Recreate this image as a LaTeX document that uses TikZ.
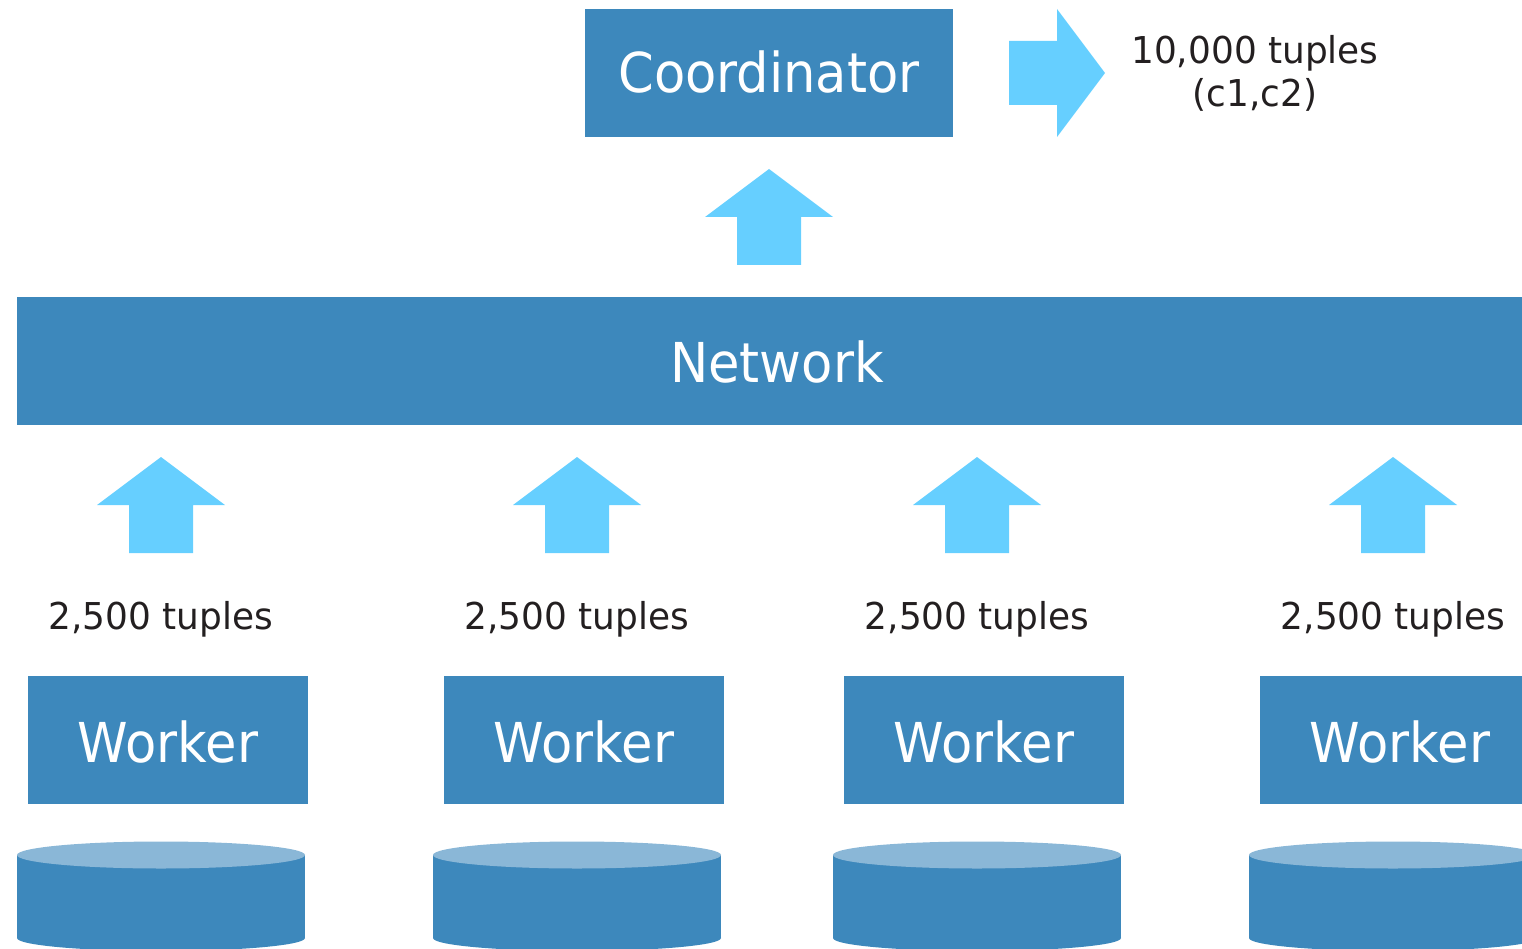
\documentclass[tikz,border=0pt]{standalone}
\usepackage{fontspec}
\newfontfamily\bigf[FakeStretch=0.93]{DejaVu Sans}
\newfontfamily\smallf[FakeStretch=0.97]{DejaVu Sans}
\definecolor{boxc}{HTML}{3D88BC}
\definecolor{topc}{HTML}{8AB7D7}
\definecolor{arrc}{HTML}{66CFFF}
\definecolor{txtc}{HTML}{231F20}
\tikzset{
  bluebox/.style={fill=boxc, draw=none},
  bigtext/.style={font=\bigf\fontsize{55}{60}\selectfont, text=white, anchor=base, inner sep=0pt},
  smalltext/.style={font=\smallf\fontsize{37}{40}\selectfont, text=txtc, anchor=base, inner sep=0pt},
  uparr/.pic={\fill[arrc] (0,0) -- (64,48) -- (32,48) -- (32,96) -- (-32,96) -- (-32,48) -- (-64,48) -- cycle;},
  cyl/.pic={
    \fill[boxc] (0,0) rectangle (288,83);
    \fill[boxc] (144,83) ellipse [x radius=144, y radius=13];
    \fill[topc] (144,0) ellipse [x radius=144, y radius=13.5];
  }
}
\begin{document}
\begin{tikzpicture}[x=1pt, y=-1pt]
\useasboundingbox (0,0) rectangle (1522,949);
\clip (0,0) rectangle (1522,949);
% coordinator
\fill[bluebox] (585,9) rectangle (953,137);
\node[bigtext] (coord) at (769,93) {Coordinator};
% output arrow
\fill[arrc] (1009,41) -- (1057,41) -- (1057,9) -- (1105,73) -- (1057,137) -- (1057,105) -- (1009,105) -- cycle;
\node[smalltext] (out1) at (1255,64) {10,000 tuples};
\node[smalltext] (out2) at (1255,107) {(c1,c2)};
% arrow to coordinator
\pic at (769,169) {uparr};
% network
\fill[bluebox] (17,297) rectangle (1537,425);
\node[bigtext] (net) at (777,382) {Network};
% workers
\foreach \cx/\bx/\cyx [count=\i] in {161/28/17, 577/444/433, 977/844/833, 1393/1260/1249}{
  \pic at (\cx,457) {uparr};
  \node[smalltext] (lab\i) at (\cx,629) {2,500 tuples};
  \fill[bluebox] (\bx,676) rectangle ++(280,128);
  \node[bigtext] (w\i) at ({\bx+140},762) {Worker};
  \pic at (\cyx,855) {cyl};
}
\end{tikzpicture}
\end{document}
